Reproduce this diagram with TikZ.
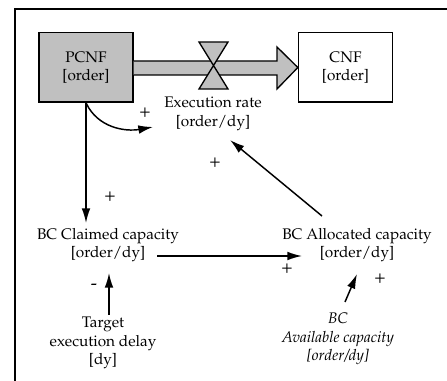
\documentclass[tikz,border=0pt]{standalone}
\usepackage[T1]{fontenc}
\usepackage{mathpazo}
\usetikzlibrary{arrows.meta,calc}
\definecolor{stockgray}{RGB}{192,192,192}
\tikzset{
  stock/.style={draw, line width=1pt, minimum width=70.5pt, minimum height=52pt, align=center},
  var/.style={align=center, inner sep=1pt},
  link/.style={line width=1.1pt, -{Latex[length=11pt,width=6.5pt]}},
  pol/.style={inner sep=0pt, font=\fontsize{14}{16}\selectfont},
}
\begin{document}
\begin{tikzpicture}[x=0.75pt,y=-0.75pt, font=\fontsize{11.5}{13.8}\selectfont]
  \useasboundingbox (0,0) rectangle (447,381);
  % frame
  \draw[line width=1.4pt] (15,381) -- (15,9) -- (447,9);

  % stocks
  \node[stock, fill=stockgray] (pcnf) at (86,67.5) {PCNF\\{[order]}};
  \node[stock] (cnf) at (345.5,67.5) {CNF\\{[order]}};

  % pipe with valve
  \draw[line width=1pt, fill=stockgray] ($(pcnf.east)+(0,-6.5)$) -- (277,61) -- (277,47)
    -- (cnf.west) -- (277,89) -- (277,75) -- ($(pcnf.east)+(0,7.5)$);
  \coordinate (valve) at (213.5,66);
  \draw[line width=1pt, fill=stockgray] ($(valve)+(-14.5,-24)$) -- ($(valve)+(14.5,-24)$)
    -- ($(valve)+(-14.5,23)$) -- ($(valve)+(14.5,23)$) -- cycle;

  % variables
  \node[var] (rate) at (213,114) {Execution rate\\{[order/dy]}};
  \node[var] (claimed) at (108,245) {BC Claimed capacity\\{[order/dy]}};
  \node[var] (alloc) at (357,245) {BC Allocated capacity\\{[order/dy]}};
  \node[var] (target) at (103,343) {Target\\execution delay\\{[dy]}};
  \node[var, font=\fontsize{11.5}{13.8}\selectfont\itshape] (avail) at (338,339)
    {BC\\Available capacity\\{[order/dy]}};

  % links
  \draw[link] (pcnf.south) to[out=-65,in=190] ($(rate.center)+(-60,13)$);
  \draw[link] (pcnf.south) -- ($(pcnf.south |- claimed.center)+(0,-22)$);
  \draw[link] ($(claimed.center)+(49,11)$) -- ($(alloc.center)+(-55,11)$);
  \draw[link] ($(alloc.center)+(-35,-29)$) -- ($(rate.center)+(17,26)$);
  \draw[link] ($(target.center)+(6,-28)$) -- ($(claimed.center)+(1,28)$);
  \draw[link] ($(avail.center)+(7,-37)$) -- ($(alloc.center)+(0,29)$);

  % polarities
  \node[pol] (p1) at (145,113) {+};
  \node[pol] (p2) at (110,197) {+};
  \node[pol] (p3) at (215,163) {+};
  \node[pol] (p4) at (287,269) {+};
  \node[pol] (p5) at (94,287) {-};
  \node[pol] (p6) at (380,279) {+};
\end{tikzpicture}
\end{document}
